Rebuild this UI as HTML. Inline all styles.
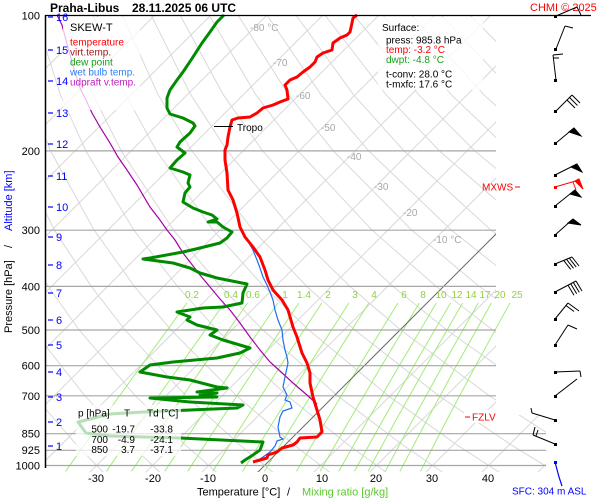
<!DOCTYPE html>
<html><head><meta charset="utf-8"><style>
html,body{margin:0;padding:0;background:#fff;}
svg{display:block;}
text{font-family:"Liberation Sans",Arial,sans-serif;}
</style></head><body>
<svg width="600" height="500" viewBox="0 0 600 500" xmlns="http://www.w3.org/2000/svg">
<defs>
<clipPath id="pc"><polygon points="46,15 496,15 496,415 546,415 546,472 46,472"/></clipPath>
<clipPath id="mc"><rect x="46" y="15" width="554" height="457"/></clipPath>
</defs>
<rect x="0" y="0" width="600" height="500" fill="#fff"/>

<!-- isotherms & dry adiabats -->
<g clip-path="url(#pc)" fill="none" stroke="#d9d9d9" stroke-width="1">
<path d="M-359,473L98.5,15.5"/>
<path d="M-303,473L154.5,15.5"/>
<path d="M-247,473L210.5,15.5"/>
<path d="M-191,473L266.5,15.5"/>
<path d="M-135,473L322.5,15.5"/>
<path d="M-79,473L378.5,15.5"/>
<path d="M-23,473L434.5,15.5"/>
<path d="M33,473L490.5,15.5"/>
<path d="M89,473L546.5,15.5"/>
<path d="M145,473L602.5,15.5"/>
<path d="M201,473L658.5,15.5"/>
<path d="M313,473L770.5,15.5"/>
<path d="M369,473L826.5,15.5"/>
<path d="M425,473L882.5,15.5"/>
<path d="M481,473L938.5,15.5"/>
<path d="M537,473L994.5,15.5"/>

<path d="M104.2,473.2L76.7,444.9L34.3,395.8L-12.7,330"/>
<path d="M160.9,473.2L131,444.9L84.9,395.8L33.2,330L5.1,286.4"/>
<path d="M217.5,473.2L185.3,444.9L135.4,395.8L79.2,330L48.2,286.4L14.8,230.2"/>
<path d="M274.1,473.2L239.7,444.9L186,395.8L125.1,330L91.3,286.4L54.5,230.2L15.2,151"/>
<path d="M330.8,473.2L294,444.9L236.6,395.8L171,330L134.4,286.4L94.2,230.2L50.6,151L27.8,94.7L6.2,15.5"/>
<path d="M387.4,473.2L348.3,444.9L287.2,395.8L217,330L177.5,286.4L133.9,230.2L85.9,151L60.4,94.7L35.2,15.5"/>
<path d="M444,473.2L402.7,444.9L337.7,395.8L262.9,330L220.6,286.4L173.6,230.2L121.3,151L93,94.7L64.2,15.5"/>
<path d="M500.7,473.2L457,444.9L388.3,395.8L308.8,330L263.7,286.4L213.3,230.2L156.6,151L125.6,94.7L93.2,15.5"/>
<path d="M557.3,473.2L511.3,444.9L438.9,395.8L354.8,330L306.8,286.4L253,230.2L192,151L158.1,94.7L122.3,15.5"/>
<path d="M613.9,473.2L565.7,444.9L489.4,395.8L400.7,330L349.9,286.4L292.7,230.2L227.3,151L190.7,94.7L151.3,15.5"/>
<path d="M620,444.9L540,395.8L446.7,330L393,286.4L332.4,230.2L262.7,151L223.3,94.7L180.3,15.5"/>
<path d="M674.4,444.9L590.6,395.8L492.6,330L436.1,286.4L372.1,230.2L298.1,151L255.8,94.7L209.3,15.5"/>
<path d="M641.2,395.8L538.5,330L479.2,286.4L411.8,230.2L333.4,151L288.4,94.7L238.3,15.5"/>
<path d="M691.7,395.8L584.5,330L522.3,286.4L451.5,230.2L368.8,151L321,94.7L267.3,15.5"/>
<path d="M630.4,330L565.4,286.4L491.2,230.2L404.1,151L353.5,94.7L296.3,15.5"/>
<path d="M676.3,330L608.5,286.4L530.9,230.2L439.5,151L386.1,94.7L325.3,15.5"/>
<path d="M651.6,286.4L570.6,230.2L474.9,151L418.7,94.7L354.3,15.5"/>
<path d="M610.3,230.2L510.2,151L451.3,94.7L383.3,15.5"/>
<path d="M650,230.2L545.6,151L483.8,94.7L412.3,15.5"/>
<path d="M580.9,151L516.4,94.7L441.3,15.5"/>
<path d="M549,94.7L470.3,15.5"/>
</g>

<!-- mixing ratio lines -->
<g clip-path="url(#mc)" fill="none" stroke="#a3ec78" stroke-width="1">
<path d="M65.6,471.3L100.8,421.9L141.3,365.7L186.9,303"/>
<path d="M106.4,471.3L140.6,421.9L179.9,365.7L224.4,303"/>
<path d="M131.5,471.3L165.1,421.9L203.8,365.7L247.5,303"/>
<path d="M164.8,471.3L197.5,421.9L235.2,365.7L277.9,303"/>
<path d="M187.7,471.3L219.8,421.9L256.8,365.7L298.9,303"/>
<path d="M212.8,471.3L244.2,421.9L280.6,365.7L321.8,303"/>
<path d="M242.6,471.3L273.2,421.9L308.6,365.7L348.9,303"/>
<path d="M264.5,471.3L294.5,421.9L329.3,365.7L368.8,303"/>
<path d="M296.5,471.3L325.6,421.9L359.4,365.7L397.9,303"/>
<path d="M320.1,471.3L348.5,421.9L381.6,365.7L419.3,303"/>
<path d="M338.9,471.3L366.7,421.9L399.2,365.7L436.3,303"/>
<path d="M354.5,471.3L381.9,421.9L413.9,365.7L450.5,303"/>
<path d="M368,471.3L395,421.9L426.5,365.7L462.6,303"/>
<path d="M385.3,471.3L411.7,421.9L442.7,365.7L478.2,303"/>
<path d="M399.9,471.3L426,421.9L456.4,365.7L491.4,303"/>
<path d="M420.5,471.3L445.8,421.9L475.6,365.7L509.9,303"/>
</g>

<!-- 0 C isotherm -->
<g clip-path="url(#pc)" fill="none" stroke="#6a6a6a" stroke-width="1">
<path d="M257,473L714.5,15.5"/>
</g>

<!-- isobars -->
<g stroke="#a6a6a6" stroke-width="1.2">
<line x1="46" y1="150.9" x2="496" y2="150.9"/>
<line x1="46" y1="230.2" x2="496" y2="230.2"/>
<line x1="46" y1="286.4" x2="496" y2="286.4"/>
<line x1="46" y1="330" x2="496" y2="330"/>
<line x1="46" y1="365.7" x2="496" y2="365.7"/>
<line x1="46" y1="395.8" x2="496" y2="395.8"/>
<line x1="46" y1="433.7" x2="546" y2="433.7"/>
<line x1="46" y1="450.3" x2="546" y2="450.3"/>
<line x1="46" y1="465.5" x2="546" y2="465.5"/>
</g>

<!-- isotherm labels -->
<g fill="#a8a8a8" font-size="10">
<text x="250" y="31">-80 °C</text>
<text x="273" y="66">-70</text>
<text x="296" y="99">-60</text>
<text x="321" y="131">-50</text>
<text x="347" y="160">-40</text>
<text x="374" y="190">-30</text>
<text x="403" y="216">-20</text>
<text x="433" y="243">-10 °C</text>
</g>

<!-- mixing ratio labels -->
<g fill="#92cf42" font-size="10" text-anchor="middle">
<text x="192" y="298">0.2</text>
<text x="231" y="298">0.4</text>
<text x="253" y="298">0.6</text>
<text x="285" y="298">1</text>
<text x="304" y="298">1.4</text>
<text x="328" y="298">2</text>
<text x="355" y="298">3</text>
<text x="374" y="298">4</text>
<text x="404" y="298">6</text>
<text x="423" y="298">8</text>
<text x="441" y="298">10</text>
<text x="457" y="298">12</text>
<text x="471" y="298">14</text>
<text x="485" y="298">17</text>
<text x="500" y="298">20</text>
<text x="517" y="298">25</text>
</g>

<!-- parcel -->
<polyline fill="none" stroke="#a800a8" stroke-width="1.2" points="57,15 62,25 66,40 70,55 75,72 80,88 86,100 92,113 100,127 110,143 118,157 127,170 137,185 150,207 160,220 167,230 175,240 183,253 190,262 200,275 210,287 220,299 230,310 240,323 250,337 260,350 270,362 280,371 293,383 307,395 317,404"/>

<!-- wet bulb -->
<polyline fill="none" stroke="#1f6cf0" stroke-width="1.2" points="246,238 253,250 257,260 260,268 263,277 267,285 270,292 273,300 275,310 278,320 282,330 283,340 285,350 287,357 288,363 285,377 283,387 287,395 285,400 290,402 292,408 283,411 280,417 278,427 280,437 283,439 277,441 275,446 270,452 263,457 255,462"/>

<!-- dew point -->
<polyline fill="none" stroke="#008a00" stroke-width="3" stroke-linejoin="round" points="224,15 217,22 210,32 202,43 193,57 183,72 177,80 170,90 167,98 167,108 170,114 183,118 193,123 195,126 190,133 180,142 177,147 185,153 177,160 170,168 183,172 190,175 188,183 190,187 185,193 183,202 193,208 203,212 212,215 217,219 208,222 217,222 223,227 232,232 227,238 220,243 200,248 183,252 150,258 143,259 173,263 190,268 200,273 217,278 237,282 247,284 243,293 242,303 223,307 203,308 177,312 190,317 187,320 197,325 217,330 210,335 223,340 250,348 240,353 217,358 173,362 150,365 140,372 167,377 190,380 217,387 227,388 197,392 217,393 200,395 217,397 150,398 190,402 243,405 237,408 190,410 143,412 110,414 78,422 86,433 110,436 180,438 263,442 260,450 253,455 245,460 241,463"/>

<!-- temperature -->
<polyline fill="none" stroke="#ff0000" stroke-width="3" stroke-linejoin="round" points="357,15 353,18 352,23 350,32 347,35 340,38 333,43 332,50 323,53 317,57 315,62 310,67 303,72 297,77 290,80 285,85 287,90 288,99 280,102 273,105 263,108 257,113 250,117 238,118 232,120 230,127 228,137 227,145 225,150 225,160 227,173 228,190 233,200 237,213 240,227 245,237 253,247 260,257 265,270 268,280 273,290 282,300 288,310 293,327 297,337 302,353 307,363 310,373 310,383 313,397 317,410 320,420 322,432 317,437 300,438 297,442 293,445 282,448 277,452 268,455 267,458 260,460 253,462"/>

<!-- tropo -->
<line x1="214" y1="126.5" x2="233" y2="126.5" stroke="#000" stroke-width="1"/>
<text x="237" y="131" font-size="10" fill="#000">Tropo</text>

<!-- axes -->
<line x1="45.5" y1="15" x2="45.5" y2="468" stroke="#000" stroke-width="1.5"/>
<line x1="45" y1="15.5" x2="591" y2="15.5" stroke="#000" stroke-width="1.2"/>

<!-- legend box -->
<rect x="63" y="17" width="77" height="93" fill="#fff" fill-opacity="0.75"/>
<text x="70" y="31" font-size="11" fill="#000">SKEW-T</text>
<g font-size="10">
<text x="70" y="45.5" fill="#ff0000">temperature</text>
<text x="70" y="55.5" fill="#a01818">virt.temp.</text>
<text x="70" y="65.5" fill="#16a016">dew point</text>
<text x="70" y="75.5" fill="#2f7ff0">wet bulb temp.</text>
<text x="70" y="85.5" fill="#c020c0">udpraft v.temp.</text>
</g>

<!-- surface box -->
<rect x="378" y="17" width="105" height="73" fill="#fff" fill-opacity="0.78"/>
<g font-size="10" fill="#000">
<text x="382" y="31">Surface:</text>
<text x="386" y="43.5">press: 985.8 hPa</text>
<text x="386" y="53" fill="#ff0000">temp: -3.2 °C</text>
<text x="386" y="63" fill="#16a016">dwpt: -4.8 °C</text>
<text x="386" y="77.5">t-conv: 28.0 °C</text>
<text x="386" y="87.5">t-mxfc: 17.6 °C</text>
</g>

<!-- table box -->
<rect x="76" y="405" width="105" height="51" fill="#fff" fill-opacity="0.72"/>
<g font-size="10" fill="#000">
<text x="78" y="416.5">p [hPa]</text>
<text x="124" y="416.5">T</text>
<text x="147" y="416.5">Td [°C]</text>
<g text-anchor="end">
<text x="108" y="432.5">500</text><text x="135" y="432.5">-19.7</text><text x="173" y="432.5">-33.8</text>
<text x="108" y="443">700</text><text x="135" y="443">-4.9</text><text x="173" y="443">-24.1</text>
<text x="108" y="453">850</text><text x="135" y="453">3.7</text><text x="173" y="453">-37.1</text>
</g>
</g>

<!-- title -->
<text x="50" y="12" font-size="12" font-weight="bold" fill="#000">Praha-Libus</text>
<text x="132" y="12" font-size="12" font-weight="bold" fill="#000">28.11.2025 06 UTC</text>
<text x="530" y="11" font-size="11" fill="#ff0000">CHMI © 2025</text>

<!-- pressure labels -->
<g font-size="11" fill="#000" text-anchor="end">
<text x="40" y="19.5">100</text>
<text x="40" y="155">200</text>
<text x="40" y="234">300</text>
<text x="40" y="290.5">400</text>
<text x="40" y="334">500</text>
<text x="40" y="369.5">600</text>
<text x="40" y="400">700</text>
<text x="40" y="437.5">850</text>
<text x="40" y="454">925</text>
<text x="40" y="469.5">1000</text>
</g>

<!-- altitude labels -->
<g stroke="#0000ff" stroke-width="1.2">
<line x1="48" y1="17" x2="53" y2="17"/><line x1="48" y1="50" x2="53" y2="50"/><line x1="48" y1="81" x2="53" y2="81"/><line x1="48" y1="113" x2="53" y2="113"/><line x1="48" y1="144" x2="53" y2="144"/><line x1="48" y1="176" x2="53" y2="176"/><line x1="48" y1="207" x2="53" y2="207"/><line x1="48" y1="237" x2="53" y2="237"/><line x1="48" y1="265" x2="53" y2="265"/><line x1="48" y1="293" x2="53" y2="293"/><line x1="48" y1="320" x2="53" y2="320"/><line x1="48" y1="345" x2="53" y2="345"/><line x1="48" y1="372" x2="53" y2="372"/><line x1="48" y1="397" x2="53" y2="397"/><line x1="48" y1="422" x2="53" y2="422"/><line x1="48" y1="446" x2="53" y2="446"/>
</g>
<g font-size="11" fill="#0000ff">
<text x="56" y="21">16</text><text x="56" y="54">15</text><text x="56" y="85">14</text><text x="56" y="117">13</text><text x="56" y="148">12</text><text x="56" y="180">11</text><text x="56" y="211">10</text><text x="56" y="241">9</text><text x="56" y="269">8</text><text x="56" y="297">7</text><text x="56" y="324">6</text><text x="56" y="349">5</text><text x="56" y="376">4</text><text x="56" y="401">3</text><text x="56" y="426">2</text><text x="56" y="450">1</text>
</g>

<!-- y axis title -->
<text transform="translate(12,333) rotate(-90)" font-size="11" fill="#000">Pressure [hPa]</text>
<text transform="translate(12,248) rotate(-90)" font-size="11" fill="#000">/</text>
<text transform="translate(12,231) rotate(-90)" font-size="11" fill="#0000ff">Altitude [km]</text>

<!-- x labels -->
<g font-size="11" fill="#000" text-anchor="middle">
<text x="96" y="482">-30</text>
<text x="153" y="482">-20</text>
<text x="208" y="482">-10</text>
<text x="265" y="482">0</text>
<text x="322" y="482">10</text>
<text x="376" y="482">20</text>
<text x="432" y="482">30</text>
<text x="488" y="482">40</text>
</g>
<text x="197" y="495.5" font-size="11" fill="#000">Temperature [°C]</text>
<text x="287" y="495.5" font-size="11" fill="#000">/</text>
<text x="302" y="495.5" font-size="11" fill="#5cc82e">Mixing ratio [g/kg]</text>

<!-- markers -->
<text x="482" y="190.5" font-size="10" fill="#ff0000">MXWS</text>
<line x1="515" y1="187" x2="520" y2="187" stroke="#ff0000" stroke-width="1"/>
<rect x="464" y="410" width="44" height="13" fill="#fff"/>
<line x1="465" y1="417" x2="470" y2="417" stroke="#ff0000" stroke-width="1"/>
<text x="472" y="420.5" font-size="10" fill="#ff0000">FZLV</text>
<text x="512" y="494.5" font-size="10" fill="#0000ff">SFC: 304 m ASL</text>

<!-- wind barbs -->
<g stroke="#000" stroke-width="1" fill="#000">
<line x1="556" y1="16" x2="577" y2="7"/><line x1="577" y1="7" x2="581" y2="15"/>
<line x1="556" y1="49" x2="565" y2="26"/><line x1="565" y1="26" x2="573" y2="28"/>
<line x1="556" y1="80" x2="553" y2="55"/><line x1="553" y1="55" x2="563" y2="54"/><line x1="553" y1="58" x2="559" y2="58"/>
<line x1="556" y1="111" x2="572" y2="95"/><line x1="572" y1="95" x2="580" y2="103"/><line x1="569.5" y1="97.5" x2="577.5" y2="105.5"/><line x1="567" y1="100" x2="575" y2="108"/>
<line x1="556" y1="143" x2="574" y2="128"/><polygon points="574,128 569,132 581,136"/>
<line x1="555" y1="175" x2="577" y2="164"/><polygon points="577,164 571,167 582,172"/>
<line x1="555" y1="206" x2="575" y2="190"/><polygon points="575,190 570,194 581,197"/>
<line x1="555" y1="235" x2="573" y2="219"/><polygon points="573,219 568,223 581,225"/>
<line x1="555" y1="264" x2="572" y2="257"/><line x1="572" y1="257" x2="579" y2="266"/><line x1="569.2" y1="258.1" x2="576.2" y2="267.1"/><line x1="566.5" y1="259.3" x2="573.5" y2="268.3"/><line x1="563.7" y1="260.4" x2="570.7" y2="269.4"/>
<line x1="555" y1="292" x2="576" y2="281"/><line x1="576" y1="281" x2="582" y2="291"/><line x1="573.3" y1="282.4" x2="579.3" y2="292.4"/><line x1="570.7" y1="283.8" x2="576.7" y2="293.8"/><line x1="568" y1="285.2" x2="574" y2="295.2"/>
<line x1="555" y1="319" x2="568" y2="303"/><line x1="568" y1="303" x2="579" y2="311"/><line x1="566" y1="305.5" x2="574" y2="311.5"/>
<line x1="555" y1="345" x2="568" y2="325"/><line x1="568" y1="325" x2="577" y2="329"/>
<line x1="555" y1="372" x2="580" y2="371"/><line x1="580" y1="371" x2="581" y2="377"/>
<line x1="555" y1="396" x2="577" y2="379"/>
<line x1="555" y1="420" x2="532" y2="413"/><line x1="532" y1="413" x2="531" y2="408"/>
<line x1="555" y1="444" x2="533" y2="435"/><line x1="533" y1="435" x2="535" y2="427"/><line x1="536" y1="436" x2="538" y2="430"/>
<rect x="554" y="15" width="3" height="3" stroke="none"/><rect x="554" y="48" width="3" height="3" stroke="none"/><rect x="554" y="79" width="3" height="3" stroke="none"/><rect x="554" y="110" width="3" height="3" stroke="none"/><rect x="554" y="142" width="3" height="3" stroke="none"/><rect x="554" y="174" width="3" height="3" stroke="none"/><rect x="554" y="205" width="3" height="3" stroke="none"/><rect x="554" y="234" width="3" height="3" stroke="none"/><rect x="554" y="263" width="3" height="3" stroke="none"/><rect x="554" y="291" width="3" height="3" stroke="none"/><rect x="554" y="318" width="3" height="3" stroke="none"/><rect x="554" y="344" width="3" height="3" stroke="none"/><rect x="554" y="371" width="3" height="3" stroke="none"/><rect x="554" y="395" width="3" height="3" stroke="none"/><rect x="554" y="419" width="3" height="3" stroke="none"/><rect x="554" y="443" width="3" height="3" stroke="none"/>
</g>
<g stroke="#ff0000" fill="#ff0000" stroke-width="1">
<line x1="555" y1="187" x2="579" y2="180"/><polygon points="579,179 575,181 583,189"/><line x1="573" y1="182" x2="576" y2="190"/>
<rect x="554" y="186" width="3" height="3" stroke="none"/>
</g>
<g stroke="#0000ff" fill="#0000ff" stroke-width="1.2">
<polyline fill="none" points="555,462 559,477 562,486"/>
<rect x="554" y="461" width="3" height="3" stroke="none"/>
</g>
</svg>
</body></html>
